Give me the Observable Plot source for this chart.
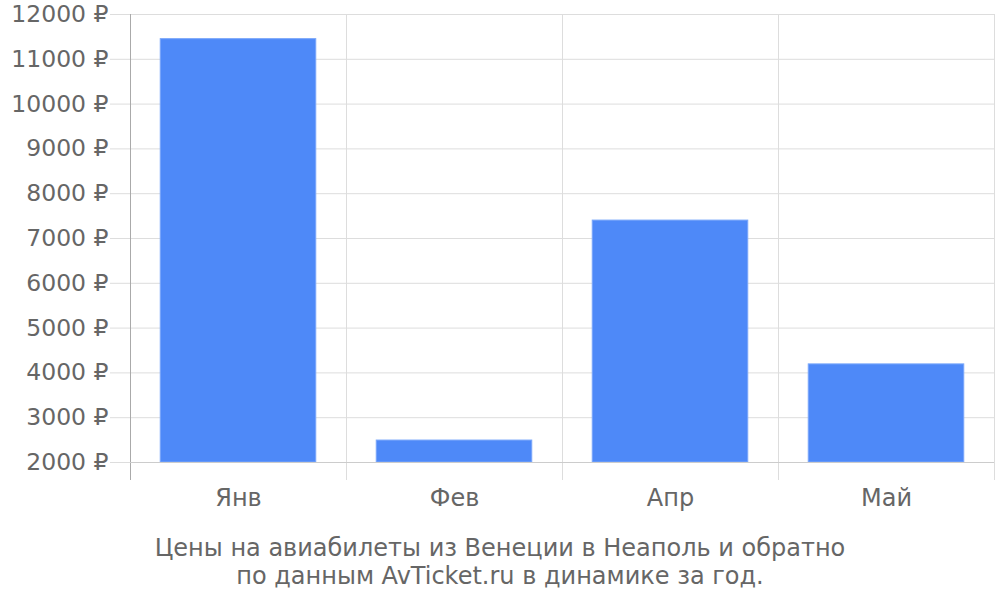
<!DOCTYPE html>
<html>
<head>
<meta charset="utf-8">
<script src="https://cdn.jsdelivr.net/npm/d3@7"></script>
<script src="https://cdn.jsdelivr.net/npm/@observablehq/plot@0.6"></script>
<style>
  body { margin: 0; background: #fff; font-family: "DejaVu Sans", sans-serif; }
  #caption { width: 1000px; text-align: center; color: #666; font-size: 24px; line-height: 28px; margin-top: 9px; }
</style>
</head>
<body>
<div id="chart"></div>
<div id="caption">Цены на авиабилеты из Венеции в Неаполь и обратно<br>по данным AvTicket.ru в динамике за год.</div>
<script>
const months = ["Янв", "Фев", "Апр", "Май"];
const prices = [11450, 2490, 7400, 4190];
const yTicks = [2000, 3000, 4000, 5000, 6000, 7000, 8000, 9000, 10000, 11000, 12000];

const data = months.map((m, i) => ({month: m, i, price: prices[i]}));
const bounds = d3.range(months.length + 1);
const centers = months.map((m, i) => i + 0.5);

const chart = Plot.plot({
  width: 1000,
  height: 525,
  marginTop: 14,
  marginBottom: 63,
  marginLeft: 130,
  marginRight: 6,
  style: {fontFamily: "DejaVu Sans, sans-serif", fontSize: "24px", color: "#666", background: "#fff"},
  x: {type: "linear", domain: [0, months.length]},
  y: {domain: [2000, 12000]},
  marks: [
    Plot.gridY(yTicks, {stroke: "#ddd", strokeOpacity: 1}),
    Plot.axisY(yTicks, {tickSize: 20, tickPadding: 2, stroke: "#ddd", tickFormat: d => d + " ₽", fill: "#666", fontSize: 23.5, label: null}),
    Plot.ruleX(bounds.slice(1), {stroke: "#ddd", insetBottom: -18}),
    Plot.ruleX([0], {stroke: "#aaa", insetBottom: -18}),
    Plot.rect(data, {x1: d => d.i + 0.14, x2: d => d.i + 0.86, y1: 2000, y2: "price", fill: "#4e89f8", stroke: "#7aa7fa", strokeWidth: 1}),
    Plot.ruleY([2000], {stroke: "#ccc"}),
    Plot.axisX(centers, {tickSize: 0, tickPadding: 26, tickFormat: d => months[Math.floor(d)], fill: "#666", fontSize: 24, label: null})
  ]
});
document.getElementById("chart").appendChild(chart);
</script>
</body>
</html>
